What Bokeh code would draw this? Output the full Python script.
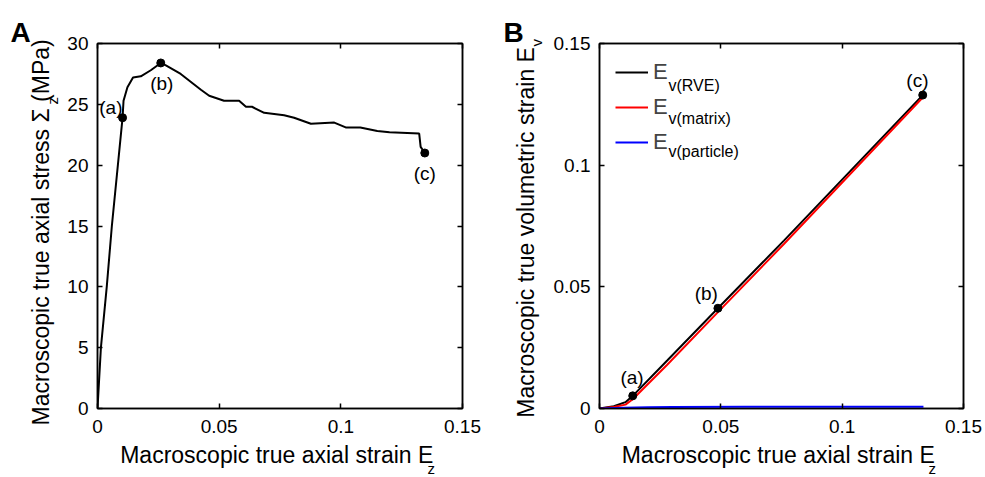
from bokeh.plotting import figure
from bokeh.layouts import row
from bokeh.models import Label, LinearAxis, FixedTicker, Range1d, Legend, LegendItem
from bokeh.core.properties import value
from bokeh.embed import file_html
from bokeh.resources import INLINE

FONT = "Liberation Sans"

# ---------------- data: panel A ----------------
strain_A = [0, 0.0014, 0.0038, 0.0059, 0.0103, 0.0107, 0.0123, 0.0146, 0.0178, 0.0219,
            0.026, 0.0281, 0.0342, 0.0425, 0.0459, 0.052, 0.0582, 0.061, 0.0635, 0.0685,
            0.0767, 0.0808, 0.0877, 0.0973, 0.102, 0.108, 0.115, 0.12, 0.1322, 0.1328, 0.1345]
stress_A = [0, 5, 10, 15, 23.9, 25.3, 26.4, 27.2, 27.3, 27.8,
            28.4, 28.2, 27.5, 26.2, 25.7, 25.3, 25.3, 24.8, 24.8, 24.3,
            24.1, 23.9, 23.4, 23.5, 23.1, 23.1, 22.8, 22.7, 22.6, 21.5, 21.0]
pts_A_x = [0.0103, 0.026, 0.1345]
pts_A_y = [23.9, 28.4, 21.0]
lab_A_x = [0.0055, 0.0264, 0.1345]
lab_A_y = [24.7, 26.7, 19.3]
pt_names = ["(a)", "(b)", "(c)"]

# ---------------- data: panel B ----------------
strain_B = [0, 0.0059, 0.0107, 0.0137, 0.0279, 0.0488, 0.076, 0.1332]
ev_rve = [0, 0.00095, 0.0026, 0.0052, 0.0197, 0.0412, 0.069, 0.1288]
ev_matrix = [0, 0.0006, 0.0016, 0.0038, 0.0180, 0.0396, 0.0676, 0.1278]
strain_P = [0, 0.01, 0.02, 0.03, 0.06, 0.1, 0.1335]
ev_particle = [0, 0.0003, 0.0005, 0.0006, 0.0007, 0.0007, 0.0007]
pts_B_x = [0.0137, 0.0488, 0.1332]
pts_B_y = [0.0052, 0.0412, 0.1288]
lab_B_x = [0.0134, 0.044, 0.131]
lab_B_y = [0.0129, 0.0471, 0.1348]

x_ticks = [0, 0.05, 0.1, 0.15]
x_tick_labels = ["0", "0.05", "0.1", "0.15"]
yA_ticks = [0, 5, 10, 15, 20, 25, 30]
yA_tick_labels = ["0", "5", "10", "15", "20", "25", "30"]
yB_ticks = [0, 0.05, 0.1, 0.15]
yB_tick_labels = ["0", "0.05", "0.1", "0.15"]


def style_axis(ax, ticks, labels, show_labels=True, standoff=9):
    ax.ticker = FixedTicker(ticks=ticks)
    ax.minor_tick_line_color = None
    ax.major_tick_in = 5
    ax.major_tick_out = 0
    ax.axis_line_color = "black"
    ax.axis_line_width = 1.5
    ax.major_tick_line_color = "black"
    ax.major_tick_line_width = 1.5
    ax.major_label_text_font = FONT
    ax.major_label_text_color = "black"
    ax.axis_label_text_font = FONT
    ax.axis_label_text_font_size = "23px"
    ax.axis_label_text_font_style = "normal"
    ax.axis_label_text_color = "black"
    if show_labels:
        ax.major_label_overrides = {t: l for t, l in zip(ticks, labels)}
        ax.major_label_text_font_size = "19px"
        ax.major_label_standoff = standoff
    else:
        ax.major_label_overrides = {t: "" for t in ticks}
        ax.major_label_text_font_size = "1px"
        ax.major_label_standoff = 0


def make_fig(width, left, right, y_end, yticks, ylabels, xtitle, ytitle, ystandoff):
    p = figure(width=width, height=477, x_range=Range1d(0, 0.15), y_range=Range1d(0, y_end),
               output_backend="svg", toolbar_location=None,
               min_border_left=left, min_border_right=right,
               min_border_top=43, min_border_bottom=69)
    p.xgrid.visible = False
    p.ygrid.visible = False
    p.outline_line_color = "black"
    p.outline_line_width = 1.5
    p.background_fill_color = "white"
    p.border_fill_color = "white"
    bottom = p.xaxis[0]
    left_ax = p.yaxis[0]
    style_axis(bottom, x_ticks, x_tick_labels, standoff=11)
    style_axis(left_ax, yticks, ylabels, standoff=9)
    bottom.axis_label = xtitle
    bottom.axis_label_standoff = 6
    left_ax.axis_label = ytitle
    left_ax.axis_label_standoff = ystandoff
    top = LinearAxis()
    style_axis(top, x_ticks, x_tick_labels, show_labels=False)
    p.add_layout(top, "above")
    rgt = LinearAxis()
    style_axis(rgt, yticks, ylabels, show_labels=False)
    p.add_layout(rgt, "right")
    return p


def lab(p, text, x, y, size, place, angle=0, bold=False):
    p.add_layout(Label(x=x, y=y, x_units="screen", y_units="screen", text=text,
                       text_font=FONT, text_font_size=size, text_color="black",
                       text_align="left", text_baseline="alphabetic", angle=angle,
                       angle_units="deg", text_font_style="bold" if bold else "normal"),
                 place)


# ---------------- panel A ----------------
pA = make_fig(492, 97, 30, 30, yA_ticks, yA_tick_labels,
              "Macroscopic true axial strain E ", "Macroscopic true axial stress  Σ  (MPa)", 10)
pA.line(strain_A, stress_A, line_color="black", line_width=2)
pA.scatter(pts_A_x, pts_A_y, size=8, color="black")
pA.text(lab_A_x, lab_A_y, text=pt_names, text_font=value(FONT), text_font_size="19px",
        text_align="center", text_baseline="middle", text_color="black")

lab(pA, "A", -87, 11, "28px", "above", bold=True)
lab(pA, "z", -35, -60, "15px", "right")
lab(pA, "z", 44, 304, "15px", "left", angle=90)

# ---------------- panel B ----------------
pB = make_fig(493, 107, 22, 0.15, yB_ticks, yB_tick_labels,
              "Macroscopic true axial strain E ", "Macroscopic true volumetric strain E  ", 12)
r_rve = pB.line(strain_B, ev_rve, line_color="black", line_width=2)
r_mat = pB.line(strain_B, ev_matrix, line_color="red", line_width=2)
r_par = pB.line(strain_P, ev_particle, line_color="blue", line_width=2)
pB.scatter(pts_B_x, pts_B_y, size=8, color="black")
pB.text(lab_B_x, lab_B_y, text=pt_names, text_font=value(FONT), text_font_size="19px",
        text_align="center", text_baseline="middle", text_color="black")

legend = Legend(items=[LegendItem(label="E", renderers=[r_rve]),
                       LegendItem(label="E", renderers=[r_mat]),
                       LegendItem(label="E", renderers=[r_par])],
                location="top_left", margin=16, padding=14, spacing=9,
                glyph_width=33, glyph_height=24, label_height=24, label_standoff=5,
                label_text_font=FONT, label_text_font_size="22px",
                border_line_color=None, background_fill_alpha=0)
pB.add_layout(legend, "center")

leg_subs = ["v(RVE)", "v(matrix)", "v(particle)"]
for i, s in enumerate(leg_subs):
    pB.add_layout(Label(x=69, y=323 - 33 * i, x_units="screen", y_units="screen", text=s,
                        text_font=FONT, text_font_size="16px", text_color="black",
                        text_align="left", text_baseline="alphabetic"))

lab(pB, "B", -96, 11, "28px", "above", bold=True)
lab(pB, "z", -35, -60, "15px", "right")
lab(pB, "v", 44, 362, "15px", "left", angle=90)

layout = row(pA, pB)
open("out.html", "w").write(file_html(layout, INLINE))
